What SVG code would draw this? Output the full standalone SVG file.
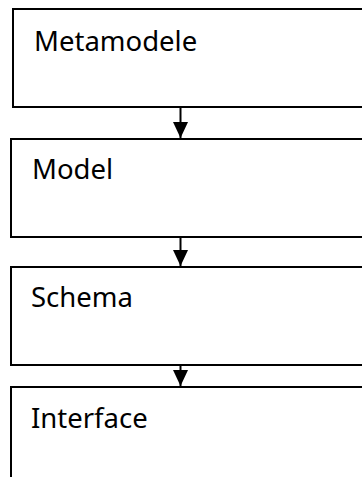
<svg xmlns="http://www.w3.org/2000/svg" width="362" height="477" viewBox="0 0 362 477">
  <style>
    .box { fill: #ffffff; stroke: #000000; stroke-width: 2; }
    .lbl { font-family: "Noto Sans", "Open Sans", "Liberation Sans", sans-serif; font-size: 27.5px; fill: #000000; }
    .conn { stroke: #000000; stroke-width: 2; fill: none; }
  </style>
  <defs>
    <marker id="arrow" markerUnits="userSpaceOnUse" markerWidth="16" markerHeight="16" refX="16" refY="8" orient="auto" viewBox="0 0 16 16">
      <path d="M0,0.5 L16,8 L0,15.5 Z" fill="#000000"/>
    </marker>
  </defs>
  <rect width="362" height="477" fill="#ffffff"/>
  <g id="node-metamodele">
    <rect class="box" x="13" y="9" width="360" height="98"/>
    <text class="lbl" x="34" y="51">Metamodele</text>
  </g>
  <g id="node-model">
    <rect class="box" x="11" y="139" width="362" height="98"/>
    <text class="lbl" x="32" y="179">Model</text>
  </g>
  <g id="node-schema">
    <rect class="box" x="11" y="267" width="362" height="98"/>
    <text class="lbl" x="31" y="307">Schema</text>
  </g>
  <g id="node-interface">
    <rect class="box" x="11" y="387" width="362" height="100"/>
    <text class="lbl" x="31" y="428">Interface</text>
  </g>
  <g id="connectors">
    <line class="conn" x1="180.5" y1="107" x2="180.5" y2="138" marker-end="url(#arrow)"/>
    <line class="conn" x1="180.5" y1="237" x2="180.5" y2="266" marker-end="url(#arrow)"/>
    <line class="conn" x1="180.5" y1="365" x2="180.5" y2="386" marker-end="url(#arrow)"/>
  </g>
</svg>
